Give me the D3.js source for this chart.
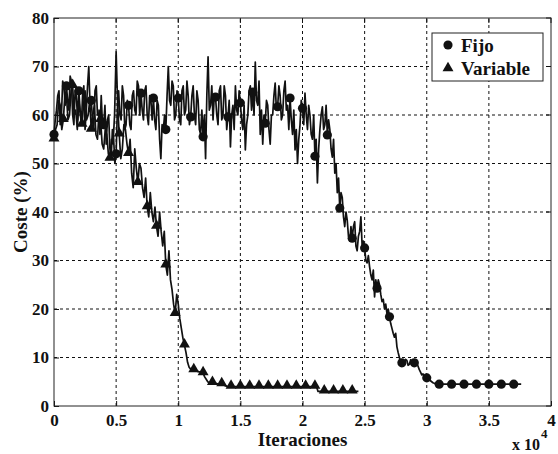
<!DOCTYPE html>
<html>
<head>
<meta charset="utf-8">
<script src="https://cdn.jsdelivr.net/npm/d3@7"></script>
<style>
  body { margin: 0; background: #fff; }
  text { font-family: "Liberation Serif", "Times New Roman", serif; font-weight: bold; fill: #111; }
</style>
</head>
<body>
<svg id="chart"></svg>
<script>
// tick values
const xTicks = [0, 5000, 10000, 15000, 20000, 25000, 30000, 35000, 40000];
const xTickLabels = ["0", "0.5", "1", "1.5", "2", "2.5", "3", "3.5", "4"];
const yTicks = [0, 10, 20, 30, 40, 50, 60, 70, 80];

const seriesNames = ["Fijo", "Variable"];

// Fijo: one value every 100 iterations, marker every 1000
const fijoStep = 100;
const fijoMarkEvery = 10;
const fijo = [
  56, 59, 61, 64, 65, 58, 60, 67, 66, 62,
  66, 63, 61, 68, 67, 60, 58, 65, 64, 59,
  65, 61, 58, 64, 66, 57, 61, 66, 70, 62,
  63, 59, 57, 65, 66, 60, 60, 56, 64, 58,
  58, 62, 54, 59, 60, 53, 51, 57, 55, 50,
  52, 61, 65, 60, 59, 66, 64, 57, 58, 63,
  62, 58, 57, 64, 65, 61, 60, 67, 66, 60,
  64.5, 61, 59, 65, 66, 60, 58, 64, 63, 59,
  63.5, 59, 57, 63, 62, 55, 51, 58, 57, 60,
  57, 64, 70, 63, 62, 67, 66, 59, 60, 65,
  63.5, 59, 58, 65, 66, 60, 61, 67, 64, 58,
  59.6, 64, 66, 60, 58, 65, 63, 57, 56, 61,
  55.5, 60, 51, 64, 72, 61, 62, 66, 59, 64,
  63.7, 60, 58, 65, 66, 59, 60, 66, 64, 57,
  59.6, 63, 53.4, 60, 62, 57, 66, 61, 60, 65,
  62.5, 59, 57, 62, 52.8, 58, 60, 65, 66, 61,
  64.7, 60, 70.9, 63, 62, 67, 56, 61, 54, 60,
  58.3, 63, 62, 57, 54, 60, 60, 64, 66.6, 61,
  61.7, 66, 64, 59, 60, 65, 67, 61, 62, 57,
  63.5, 59, 56, 61, 52.8, 57, 50, 55, 58, 63,
  61.4, 58, 64.5, 60, 57, 62, 60, 56, 55, 60,
  51.5, 55, 46, 53, 57, 60, 61.7, 57, 58, 62,
  55.9, 59, 57, 53, 51.3, 55, 48, 50, 44, 47,
  40.8, 44, 43, 39, 37, 40, 38.3, 35, 34, 37,
  34.6, 37, 38, 33, 32, 35, 36, 39, 33, 34,
  32.6, 30, 29.5, 31, 28.7, 27, 26, 28, 22.5, 26,
  24.3, 26, 25, 23, 21.5, 22, 20, 21, 19, 20,
  18.4, 17, 16, 15, 14.2, 15, 12.2, 11, 10, 9,
  8.9, 8.2, 8.5, 9.6, 9.4, 8.4, 8.6, 9.5, 9.2, 8.8,
  8.9, 9.3, 8.7, 8.2, 7.5, 7, 6.4, 6.6, 6.1, 6,
  5.8, 5.6, 5.4, 5.2, 5, 4.8, 4.7, 4.6, 4.5, 4.5,
  4.5, 4.5, 4.5, 4.5, 4.5, 4.5, 4.5, 4.5, 4.5, 4.5,
  4.5, 4.5, 4.5, 4.5, 4.5, 4.5, 4.5, 4.5, 4.5, 4.5,
  4.5, 4.5, 4.5, 4.5, 4.5, 4.5, 4.5, 4.5, 4.5, 4.5,
  4.5, 4.5, 4.5, 4.5, 4.5, 4.5, 4.5, 4.5, 4.5, 4.5,
  4.5, 4.5, 4.5, 4.5, 4.5, 4.5, 4.5, 4.5, 4.5, 4.5,
  4.5, 4.5, 4.5, 4.5, 4.5, 4.5, 4.5, 4.5, 4.5, 4.5,
  4.5, 4.5, 4.5, 4.5, 4.5, 4.5, 4.5
];

// Variable: one value every 125 iterations, marker every 750
const variableStep = 125;
const variableMarkEvery = 6;
const variable = [
  55, 57, 58, 63, 62, 57, 59, 64,
  64, 59, 60, 65, 66, 60, 61, 57,
  63, 60, 58, 62, 65, 59, 60, 63,
  57, 60, 62, 56, 55, 61, 59, 54,
  53, 57, 56, 52, 51, 55, 54, 60,
  73, 62, 56, 51, 53, 58, 57, 54,
  52, 55, 48, 45, 53, 49, 46, 50,
  49, 45, 43, 47, 41, 39, 44, 40,
  38, 41, 37, 35, 40, 36, 33, 36,
  29, 27, 32, 26, 24, 21, 19, 23,
  21, 18, 16, 14, 12.5, 11, 9, 8,
  7.6, 7.5, 7.4, 7.3, 7.2, 7.1, 7, 6.9,
  6.8, 6, 5.5, 5, 4.8, 4.8, 4.8, 4.7,
  4.6, 4.6, 4.5, 4.5, 4.5, 4.4, 4.2, 4.1,
  4, 4, 4, 4, 4, 4, 4, 4, 4, 4, 4, 4, 4, 4, 4, 4, 4, 4, 4, 4,
  4, 4, 4, 4, 4, 4, 4, 4, 4, 4, 4, 4, 4, 4, 4, 4, 4, 4, 4, 4,
  4, 4, 4, 4, 4, 4, 4, 4, 4, 4, 4, 4, 4, 4, 4, 4, 4, 4,
  3, 3, 3, 3, 3, 3, 3, 3, 3, 3, 3, 3, 3, 3, 3, 3, 3, 3, 3, 3,
  3, 3, 3, 3, 3, 3, 3
];

const width = 558, height = 454;
const svg = d3.select("#chart").attr("width", width).attr("height", height);

const x = d3.scaleLinear().domain([0, 40000]).range([54, 551]);
const y = d3.scaleLinear().domain([0, 80]).range([406, 18]);

// grid
const grid = svg.append("g").attr("stroke", "#111").attr("stroke-width", 1).attr("stroke-dasharray", "3,3");
grid.selectAll(".gx").data(xTicks.slice(1, -1)).enter().append("line")
  .attr("x1", d => x(d)).attr("x2", d => x(d)).attr("y1", y(0)).attr("y2", y(80));
grid.selectAll(".gy").data(yTicks.slice(1, -1)).enter().append("line")
  .attr("y1", d => y(d)).attr("y2", d => y(d)).attr("x1", x(0)).attr("x2", x(40000));

// axes, ticks inward like matlab
const xAxis = d3.axisBottom(x).tickValues(xTicks).tickSizeInner(-5).tickSizeOuter(0).tickPadding(8)
  .tickFormat((d, i) => xTickLabels[i]);
const yAxis = d3.axisLeft(y).tickValues(yTicks).tickSizeInner(-5).tickSizeOuter(0).tickPadding(5);

const gx = svg.append("g").attr("transform", "translate(0," + y(0) + ")").call(xAxis);
const gy = svg.append("g").attr("transform", "translate(" + x(0) + ",0)").call(yAxis);
[gx, gy].forEach(g => {
  g.select(".domain").remove();
  g.selectAll("text").style("font-size", "17px");
  g.selectAll("line").attr("stroke", "#111");
});

// top and right ticks
svg.append("g").selectAll("line").data(xTicks).enter().append("line")
  .attr("x1", d => x(d)).attr("x2", d => x(d)).attr("y1", y(80)).attr("y2", y(80) + 5).attr("stroke", "#111");
svg.append("g").selectAll("line").data(yTicks).enter().append("line")
  .attr("y1", d => y(d)).attr("y2", d => y(d)).attr("x1", x(40000)).attr("x2", x(40000) - 5).attr("stroke", "#111");

// box
svg.append("rect").attr("x", x(0)).attr("y", y(80))
  .attr("width", x(40000) - x(0)).attr("height", y(0) - y(80))
  .attr("fill", "none").attr("stroke", "#222").attr("stroke-width", 1);

// lines
const line = step => d3.line().x((d, i) => x(i * step)).y(d => y(d));

svg.append("path").datum(variable).attr("d", line(variableStep))
  .attr("fill", "none").attr("stroke", "#111").attr("stroke-width", 1.7).attr("stroke-linejoin", "round");
svg.append("path").datum(fijo).attr("d", line(fijoStep))
  .attr("fill", "none").attr("stroke", "#111").attr("stroke-width", 1.7).attr("stroke-linejoin", "round");

// markers
const tri = d3.symbol().type(d3.symbolTriangle).size(52);
const circ = d3.symbol().type(d3.symbolCircle).size(66);

const varMarks = variable.map((v, i) => ({ i: i, v: v })).filter(d => d.i % variableMarkEvery === 0);
svg.append("g").selectAll("path").data(varMarks).enter().append("path")
  .attr("d", tri).attr("fill", "#111")
  .attr("transform", d => "translate(" + x(d.i * variableStep) + "," + (y(d.v) - 1) + ")");

const fijoMarks = fijo.map((v, i) => ({ i: i, v: v })).filter(d => d.i % fijoMarkEvery === 0);
svg.append("g").selectAll("path").data(fijoMarks).enter().append("path")
  .attr("d", circ).attr("fill", "#111")
  .attr("transform", d => "translate(" + x(d.i * fijoStep) + "," + y(d.v) + ")");

// axis labels
svg.append("text").attr("x", (x(0) + x(40000)) / 2).attr("y", 446)
  .attr("text-anchor", "middle").style("font-size", "19px").text("Iteraciones");
svg.append("text").attr("transform", "translate(27," + (y(40)) + ") rotate(-90)")
  .attr("text-anchor", "middle").style("font-size", "19px").text("Coste (%)");

const mult = svg.append("text").attr("x", 512).attr("y", 450).style("font-size", "16px");
mult.append("tspan").text("x 10");
mult.append("tspan").attr("dy", -12).attr("dx", 1).style("font-size", "13px").text("4");

// legend
const legend = svg.append("g");
legend.append("rect").attr("x", 432).attr("y", 33).attr("width", 111).attr("height", 48)
  .attr("fill", "#fff").attr("stroke", "#222").attr("stroke-width", 1);
legend.append("path").attr("d", circ).attr("fill", "#111").attr("transform", "translate(448,45)");
legend.append("path").attr("d", tri).attr("fill", "#111").attr("transform", "translate(448,68)");
legend.selectAll("text.lg").data(seriesNames).enter().append("text")
  .attr("x", 461).attr("y", (d, i) => 52 + i * 23).style("font-size", "19px").text(d => d);
</script>
</body>
</html>
